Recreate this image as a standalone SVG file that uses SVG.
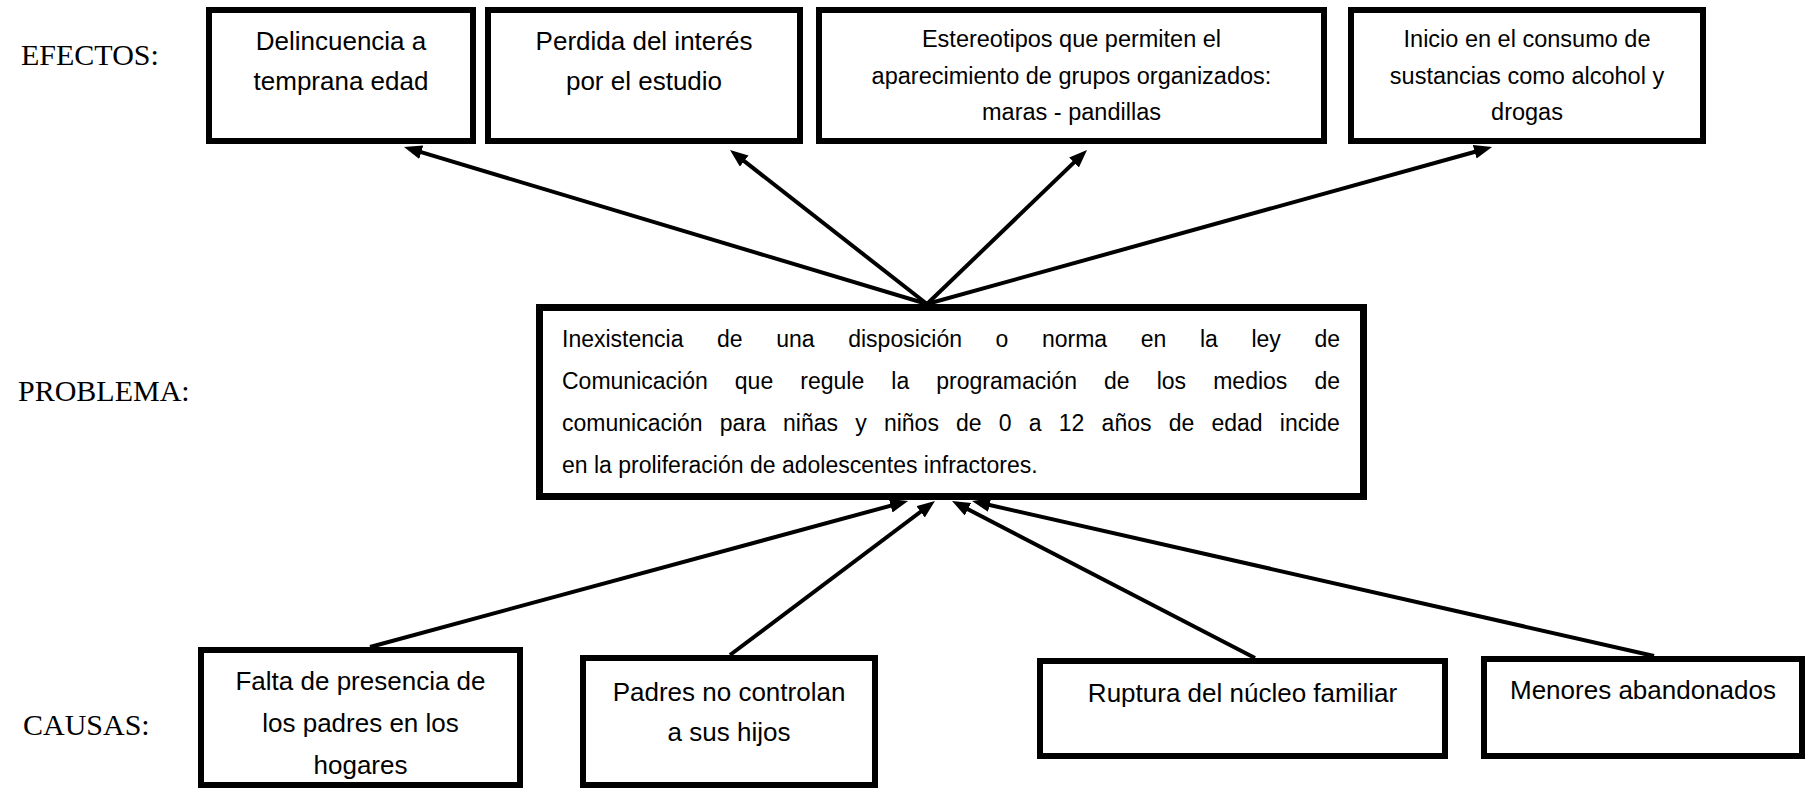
<svg xmlns="http://www.w3.org/2000/svg" width="1809" height="790" viewBox="0 0 1809 790">
<defs>
<style>
.box{fill:#fff;stroke:#000;stroke-width:6}
.lbl{font-family:"Liberation Serif","Times New Roman",serif;font-size:30px;fill:#000}
.t{font-family:"Liberation Sans",Arial,sans-serif;font-size:26px;fill:#000;text-anchor:middle}
.s{font-size:23.5px}
.p{font-family:"Liberation Sans",Arial,sans-serif;font-size:23px;fill:#000}
.c{stroke:#000;stroke-width:4;fill:none;marker-end:url(#ah)}
</style>
<marker id="ah" markerUnits="userSpaceOnUse" markerWidth="22" markerHeight="16" refX="8" refY="7" orient="auto">
<path d="M0,0 L18,7 L0,14 z" fill="#000"/>
</marker>
</defs>
<rect width="1809" height="790" fill="#fff"/>
<g id="labels">
<text class="lbl" x="21" y="65">EFECTOS:</text>
<text class="lbl" x="18" y="401">PROBLEMA:</text>
<text class="lbl" x="23" y="735">CAUSAS:</text>
</g>
<g id="connectors">
<line class="c" x1="927" y1="304" x2="413.6" y2="149.9"/>
<line class="c" x1="927" y1="304" x2="737.9" y2="156.2"/>
<line class="c" x1="927" y1="304" x2="1079.8" y2="156.9"/>
<line class="c" x1="927" y1="304" x2="1482.4" y2="149.7"/>
<line class="c" x1="370" y1="647" x2="898.4" y2="503.6"/>
<line class="c" x1="730" y1="655" x2="927" y2="507"/>
<line class="c" x1="1255" y1="658" x2="960.9" y2="505.6"/>
<line class="c" x1="1654" y1="656" x2="981.8" y2="503.2"/>
</g>
<g id="efecto1">
<rect class="box" x="209" y="10" width="264" height="131"/>
<text class="t" x="341" y="50">Delincuencia a</text>
<text class="t" x="341" y="90">temprana edad</text>
</g>
<g id="efecto2">
<rect class="box" x="488" y="10" width="312" height="131"/>
<text class="t" x="644" y="50">Perdida del interés</text>
<text class="t" x="644" y="90">por el estudio</text>
</g>
<g id="efecto3">
<rect class="box" x="819" y="10" width="505" height="131"/>
<text class="t s" x="1071.5" y="47">Estereotipos que permiten el</text>
<text class="t s" x="1071.5" y="84">aparecimiento de grupos organizados:</text>
<text class="t s" x="1071.5" y="120">maras - pandillas</text>
</g>
<g id="efecto4">
<rect class="box" x="1351" y="10" width="352" height="131"/>
<text class="t s" x="1527" y="47">Inicio en el consumo de</text>
<text class="t s" x="1527" y="84">sustancias como alcohol y</text>
<text class="t s" x="1527" y="120">drogas</text>
</g>
<g id="problema">
<rect class="box" x="539.5" y="307.5" width="824" height="189" style="stroke-width:7"/>
<text class="p" x="562" y="347" word-spacing="27.2">Inexistencia de una disposición o norma en la ley de</text>
<text class="p" x="562" y="389" word-spacing="20.7">Comunicación que regule la programación de los medios de</text>
<text class="p" x="562" y="431" word-spacing="10.8">comunicación para niñas y niños de 0 a 12 años de edad incide</text>
<text class="p" x="562" y="473">en la proliferación de adolescentes infractores.</text>
</g>
<g id="causa1">
<rect class="box" x="201" y="650" width="319" height="135"/>
<text class="t" x="360.5" y="690">Falta de presencia de</text>
<text class="t" x="360.5" y="732">los padres en los</text>
<text class="t" x="360.5" y="774">hogares</text>
</g>
<g id="causa2">
<rect class="box" x="583" y="658" width="292" height="127"/>
<text class="t" x="729" y="701">Padres no controlan</text>
<text class="t" x="729" y="741">a sus hijos</text>
</g>
<g id="causa3">
<rect class="box" x="1040" y="661" width="405" height="95"/>
<text class="t" x="1242.5" y="702">Ruptura del núcleo familiar</text>
</g>
<g id="causa4">
<rect class="box" x="1484" y="659" width="318" height="97"/>
<text class="t" x="1643" y="699">Menores abandonados</text>
</g>
</svg>
